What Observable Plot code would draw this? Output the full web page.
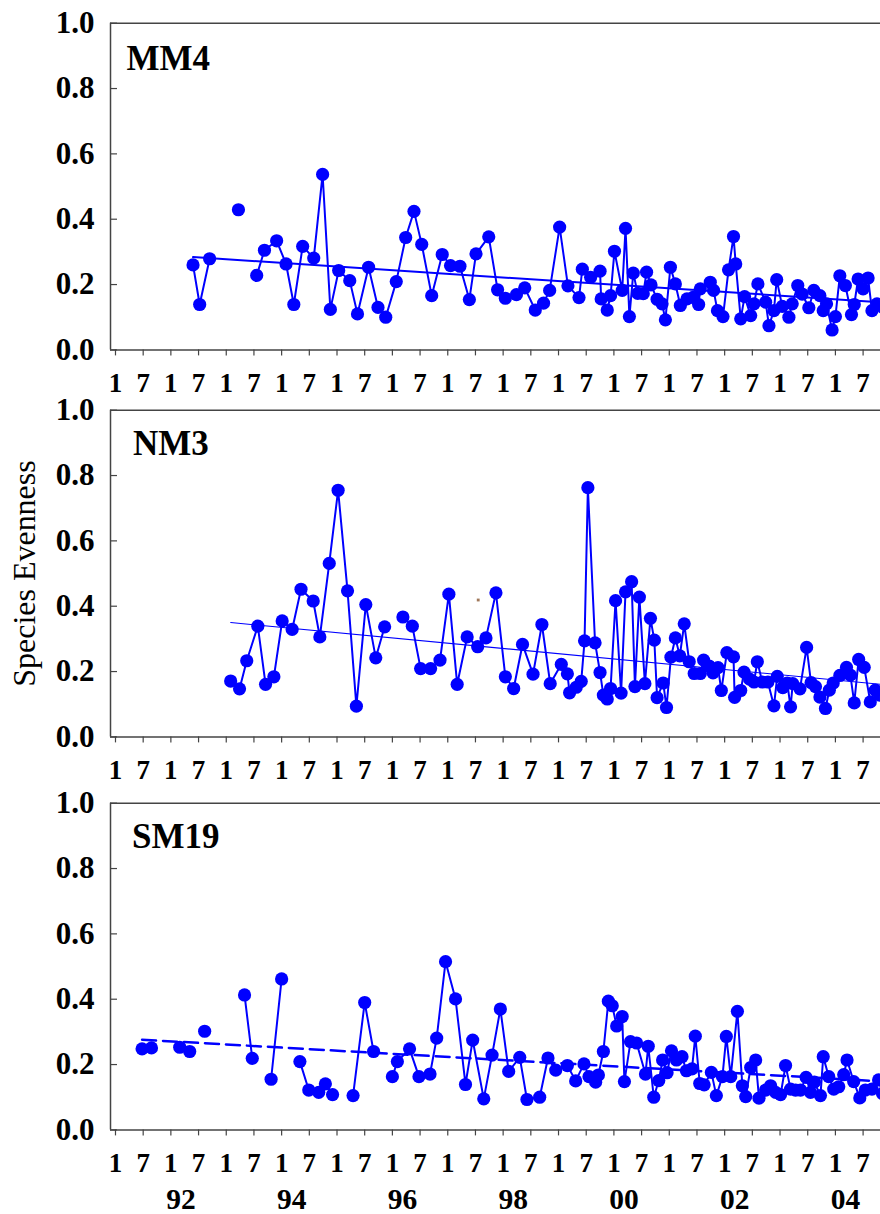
<!DOCTYPE html>
<html><head><meta charset="utf-8">
<script src="https://cdn.jsdelivr.net/npm/d3@7"></script>
<script src="https://cdn.jsdelivr.net/npm/@observablehq/plot@0.6"></script>
<style>
body{margin:0;background:#fff;}
#chart{position:relative;width:880px;height:1214px;overflow:hidden;background:#fff;}
#chart svg{position:absolute;left:0;}
</style></head><body><div id="chart"></div>
<script>
// ---- data: [decimal year, species evenness]; null = break in the series ----
const mm4 = [
[1992.40,0.260],[1992.52,0.139],[1992.70,0.279],null,
[1993.22,0.429],null,
[1993.55,0.228],[1993.69,0.305],[1993.91,0.334],[1994.08,0.263],[1994.22,0.139],[1994.38,0.317],[1994.58,0.281],[1994.74,0.537],[1994.88,0.124],[1995.03,0.243],[1995.23,0.212],[1995.37,0.110],[1995.57,0.253],[1995.74,0.130],[1995.88,0.100],[1996.07,0.209],[1996.24,0.344],[1996.39,0.424],[1996.53,0.323],[1996.71,0.166],[1996.90,0.292],[1997.05,0.258],[1997.22,0.256],[1997.39,0.154],[1997.51,0.294],[1997.74,0.346],[1997.90,0.184],[1998.04,0.158],[1998.24,0.169],[1998.39,0.190],[1998.58,0.122],[1998.73,0.143],[1998.84,0.182],[1999.02,0.376],[1999.17,0.196],[1999.37,0.160],[1999.43,0.247],[1999.58,0.222],[1999.75,0.241],[1999.77,0.156],[1999.88,0.122],[1999.94,0.166],[2000.01,0.302],[2000.15,0.182],[2000.21,0.372],[2000.28,0.102],[2000.35,0.235],[2000.43,0.173],[2000.53,0.172],[2000.59,0.238],[2000.67,0.199],[2000.78,0.155],[2000.87,0.141],[2000.93,0.092],[2001.02,0.253],[2001.11,0.202],[2001.20,0.136],[2001.32,0.156],[2001.43,0.161],[2001.53,0.139],[2001.56,0.187],[2001.74,0.207],[2001.80,0.182],[2001.87,0.120],[2001.97,0.102],[2002.07,0.245],[2002.16,0.347],[2002.20,0.263],[2002.29,0.095],[2002.36,0.163],[2002.47,0.105],[2002.53,0.141],[2002.60,0.202],[2002.74,0.146],[2002.80,0.074],[2002.89,0.120],[2002.94,0.215],[2003.04,0.133],[2003.16,0.100],[2003.22,0.141],[2003.32,0.197],[2003.40,0.171],[2003.52,0.129],[2003.61,0.182],[2003.72,0.166],[2003.78,0.120],[2003.84,0.141],[2003.94,0.061],[2004.00,0.102],[2004.08,0.227],[2004.18,0.197],[2004.29,0.108],[2004.34,0.139],[2004.41,0.217],[2004.50,0.187],[2004.59,0.220],[2004.66,0.120],[2004.75,0.141],[2004.86,0.130]
];
const mm4Trend = [[1992.40,0.284],[2005.00,0.144]];

const nm3 = [
[1993.08,0.171],[1993.24,0.147],[1993.37,0.233],[1993.57,0.339],[1993.71,0.161],[1993.86,0.184],[1994.01,0.355],[1994.19,0.329],[1994.35,0.452],[1994.57,0.416],[1994.69,0.306],[1994.86,0.531],[1995.02,0.755],[1995.19,0.447],[1995.35,0.094],[1995.52,0.405],[1995.70,0.242],[1995.86,0.337],null,
[1996.19,0.367],[1996.36,0.339],[1996.51,0.209],[1996.69,0.209],[1996.86,0.235],[1997.02,0.437],[1997.17,0.161],[1997.35,0.306],[1997.54,0.276],[1997.69,0.303],[1997.87,0.441],[1998.04,0.184],[1998.19,0.148],[1998.35,0.283],[1998.54,0.192],[1998.70,0.344],[1998.85,0.163],[1999.05,0.222],[1999.16,0.193],[1999.20,0.135],[1999.32,0.152],[1999.41,0.170],[1999.47,0.294],[1999.53,0.763],[1999.66,0.288],[1999.75,0.197],[1999.81,0.128],[1999.88,0.116],[1999.94,0.148],[2000.03,0.417],[2000.13,0.134],[2000.21,0.444],[2000.32,0.475],[2000.38,0.154],[2000.46,0.428],[2000.56,0.163],[2000.66,0.363],[2000.73,0.296],[2000.78,0.120],[2000.89,0.165],[2000.95,0.090],[2001.03,0.244],[2001.11,0.303],[2001.19,0.248],[2001.27,0.346],[2001.36,0.230],[2001.45,0.194],[2001.56,0.194],[2001.62,0.235],[2001.72,0.217],[2001.79,0.196],[2001.88,0.212],[2001.94,0.142],[2002.04,0.258],[2002.16,0.245],[2002.18,0.121],[2002.29,0.142],[2002.35,0.198],[2002.45,0.177],[2002.53,0.168],[2002.59,0.230],[2002.68,0.168],[2002.78,0.168],[2002.89,0.095],[2002.95,0.185],[2003.05,0.151],[2003.13,0.165],[2003.19,0.092],[2003.23,0.163],[2003.36,0.147],[2003.48,0.274],[2003.56,0.166],[2003.64,0.154],[2003.72,0.122],[2003.82,0.087],[2003.89,0.143],[2003.96,0.165],[2004.08,0.188],[2004.20,0.213],[2004.27,0.189],[2004.34,0.104],[2004.42,0.237],[2004.52,0.213],[2004.63,0.107],[2004.72,0.143],[2004.80,0.128]
];
const nm3Trend = [[1993.08,0.350],[2005.00,0.158]];
const nm3Speck = [[1997.55,0.419]];

const sm19 = [
[1991.48,0.248],[1991.65,0.251],null,
[1992.16,0.253],[1992.34,0.240],null,
[1992.61,0.302],null,
[1993.33,0.413],[1993.47,0.219],null,
[1993.81,0.155],[1994.00,0.462],null,
[1994.33,0.209],[1994.49,0.122],[1994.67,0.115],[1994.79,0.141],[1994.92,0.108],null,
[1995.29,0.105],[1995.50,0.390],[1995.66,0.240],null,
[1996.00,0.163],[1996.09,0.209],[1996.31,0.248],[1996.48,0.163],[1996.68,0.171],[1996.80,0.281],[1996.96,0.515],[1997.14,0.401],[1997.32,0.139],[1997.45,0.275],[1997.65,0.095],[1997.80,0.229],[1997.95,0.370],[1998.10,0.179],[1998.30,0.222],[1998.43,0.093],[1998.66,0.100],[1998.81,0.220],[1998.95,0.183],[1999.16,0.197],[1999.31,0.150],[1999.46,0.202],[1999.55,0.163],[1999.67,0.146],[1999.72,0.168],[1999.81,0.240],[1999.90,0.394],[1999.97,0.380],[2000.05,0.318],[2000.15,0.347],[2000.19,0.148],[2000.30,0.270],[2000.41,0.266],[2000.57,0.171],[2000.62,0.256],[2000.72,0.100],[2000.81,0.151],[2000.88,0.214],[2000.96,0.175],[2001.04,0.242],[2001.13,0.214],[2001.23,0.224],[2001.31,0.181],[2001.41,0.187],[2001.47,0.287],[2001.55,0.142],[2001.63,0.138],[2001.76,0.176],[2001.85,0.105],[2001.96,0.163],[2002.03,0.286],[2002.11,0.163],[2002.23,0.363],[2002.32,0.135],[2002.38,0.102],[2002.47,0.191],[2002.56,0.214],[2002.62,0.097],[2002.74,0.122],[2002.83,0.135],[2002.92,0.115],[2003.01,0.108],[2003.10,0.197],[2003.19,0.125],[2003.28,0.122],[2003.37,0.122],[2003.47,0.161],[2003.55,0.115],[2003.62,0.146],[2003.73,0.105],[2003.78,0.224],[2003.88,0.163],[2003.97,0.125],[2004.06,0.132],[2004.15,0.169],[2004.21,0.214],[2004.33,0.148],[2004.44,0.098],[2004.54,0.122],[2004.66,0.125],[2004.78,0.153],[2004.85,0.111]
];
const sm19Trend = [[1991.48,0.276],[2005.00,0.147]];

// ---- ticks / labels ----
const yTicks = [0, 0.2, 0.4, 0.6, 0.8, 1.0];
const monthTicks = d3.range(1991, 2005, 0.5);          // January and July of each year
const monthLabel = d => (d % 1 === 0 ? "1" : "7");
const yearTicks = [1992, 1994, 1996, 1998, 2000, 2002, 2004];
const yearLabel = d => String(d).slice(2);
const yTitle = "Species Evenness";

// ---- layout / style ----
const blue = "#0000ff";
const frameColor = "#444";
const xDomain = [1990.91, 2004.814];
const W = 880, mL = 110, mT = 22.7, plotH = 326.7;
const font = '"Liberation Serif", "Times New Roman", serif';

const panels = [
  {name: "MM4",  series: mm4,  trend: mm4Trend,  trendWidth: 2,   dash: null,   top: 0,     titleDx: 16,   titleDy: 46.6, mB: 52},
  {name: "NM3",  series: nm3,  trend: nm3Trend,  trendWidth: 1.1, dash: null,   top: 387.3, titleDx: 22.5, titleDy: 45,   mB: 52, yLabel: true, speck: nm3Speck},
  {name: "SM19", series: sm19, trend: sm19Trend, trendWidth: 2.5, dash: "14,7", top: 779.6, titleDx: 21.5, titleDy: 44.4, mB: 85, years: true}
];

const toRows = arr => arr.map(d => d ? {date: d[0], value: d[1]} : {date: NaN, value: NaN});

const chart = document.getElementById("chart");
for (const p of panels) {
  const rows = toRows(p.series);
  const trend = toRows(p.trend);
  const marks = [
    Plot.ruleY([1], {stroke: frameColor, strokeWidth: 1.5}),
    Plot.ruleX([xDomain[0]], {stroke: frameColor, strokeWidth: 1.5}),
    Plot.tickY(yTicks, {y: d => d, stroke: frameColor, strokeWidth: 1.2, insetRight: W - mL - 7}),
    Plot.axisY({ticks: yTicks, tickSize: 0, tickPadding: 16, tickFormat: d3.format(".1f"), fontSize: 31, fontWeight: "bold", label: null}),
    Plot.axisX({ticks: monthTicks, tickFormat: monthLabel, tickSize: 6, tickPadding: 17, fontSize: 27, fontWeight: "bold", stroke: frameColor, strokeWidth: 1.2, label: null}),
    Plot.ruleY([0], {stroke: frameColor, strokeWidth: 1.5}),
    Plot.line(trend, {x: "date", y: "value", stroke: blue, strokeWidth: p.trendWidth, strokeDasharray: p.dash, clip: true}),
    Plot.line(rows, {x: "date", y: "value", stroke: blue, strokeWidth: 2, clip: true}),
    Plot.dot(rows, {x: "date", y: "value", r: 6.6, fill: blue, clip: true}),
    Plot.text([p.name], {frameAnchor: "top-left", dx: p.titleDx, dy: p.titleDy, textAnchor: "start", lineAnchor: "bottom", fontSize: 35, fontWeight: "bold"})
  ];
  if (p.speck) marks.push(Plot.dot(toRows(p.speck), {x: "date", y: "value", symbol: "square", r: 1.6, fill: "#a0785a"}));
  if (p.yLabel) marks.push(Plot.text([yTitle], {frameAnchor: "left", rotate: -90, dx: -86, textAnchor: "middle", lineAnchor: "middle", fontSize: 32, fontWeight: "normal"}));
  if (p.years) marks.push(Plot.text(yearTicks, {x: d => d, text: yearLabel, frameAnchor: "bottom", dx: 10, dy: 58, lineAnchor: "top", fontSize: 29.5, fontWeight: "bold"}));

  const svg = Plot.plot({
    width: W,
    height: mT + plotH + p.mB,
    marginLeft: mL, marginRight: 0, marginTop: mT, marginBottom: p.mB,
    x: {domain: xDomain, label: null},
    y: {domain: [0, 1], label: null},
    style: {fontFamily: font, fontWeight: "bold", background: "transparent", overflow: "visible", color: "black"},
    marks
  });
  svg.style.top = p.top + "px";
  chart.appendChild(svg);
}
</script>
</body></html>
